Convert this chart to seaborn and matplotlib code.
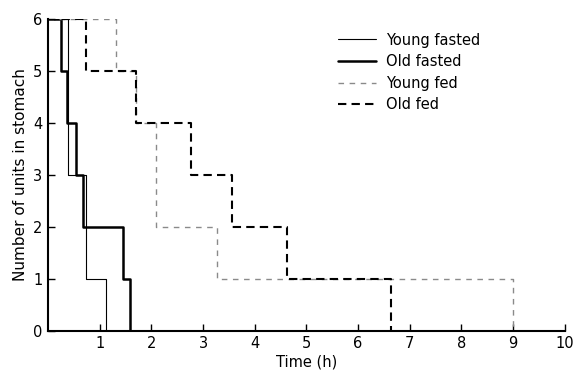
import numpy as np
import pandas as pd
import seaborn as sns
import matplotlib.pyplot as plt

sns.set_style("ticks")
plt.rcParams['font.family'] = ['DejaVu Sans']
plt.rcParams['text.color'] = 'black'
plt.rcParams['axes.labelcolor'] = 'black'
plt.rcParams['xtick.color'] = 'black'
plt.rcParams['ytick.color'] = 'black'

# step data: times at which the count drops, counts after each drop
young_fasted_t = [0, 0.39, 0.73, 1.12]
young_fasted_n = [6, 3, 1, 0]
old_fasted_t = [0, 0.26, 0.36, 0.54, 0.68, 1.45, 1.58]
old_fasted_n = [6, 5, 4, 3, 2, 1, 0]
young_fed_t = [0, 1.32, 1.71, 2.09, 3.28, 9.0]
young_fed_n = [6, 5, 4, 2, 1, 0]
old_fed_t = [0, 0.73, 1.71, 2.76, 3.56, 4.62, 6.64]
old_fed_n = [6, 5, 4, 3, 2, 1, 0]

labels = ["Young fasted", "Old fasted", "Young fed", "Old fed"]
xticks = [1, 2, 3, 4, 5, 6, 7, 8, 9, 10]
yticks = [0, 1, 2, 3, 4, 5, 6]

frames = []
for lab, t, n in zip(labels,
                     [young_fasted_t, old_fasted_t, young_fed_t, old_fed_t],
                     [young_fasted_n, old_fasted_n, young_fed_n, old_fed_n]):
    frames.append(pd.DataFrame({"time": t, "units": n, "group": lab}))
df = pd.concat(frames, ignore_index=True)

styles = {
    "Young fasted": dict(color="black", lw=0.8, ls="-"),
    "Old fasted": dict(color="black", lw=1.8, ls="-"),
    "Young fed": dict(color="#8a8a8a", lw=1.0, ls=(0, (4, 4))),
    "Old fed": dict(color="black", lw=1.5, ls=(0, (4, 2.5))),
}

fig, ax = plt.subplots(figsize=(5.75, 3.71), dpi=100)
fig.subplots_adjust(left=0.0835, right=0.982, bottom=0.108, top=0.949)

for lab in labels:
    d = df[df["group"] == lab]
    s = styles[lab]
    sns.lineplot(data=d, x="time", y="units", ax=ax, estimator=None,
                 drawstyle="steps-post", color=s["color"], linewidth=s["lw"],
                 linestyle=s["ls"], label=lab)

ax.set_xlim(0, 10)
ax.set_ylim(0, 6)
ax.set_xticks(xticks)
ax.set_yticks(yticks)
ax.tick_params(direction="in", length=5, width=1, labelsize=10.5, pad=4)
ax.set_xlabel("Time (h)", fontsize=10.5, labelpad=2)
ax.set_ylabel("Number of units in stomach", fontsize=11, labelpad=4)
sns.despine(ax=ax)
for sp in ["left", "bottom"]:
    ax.spines[sp].set_linewidth(1.5)
    ax.spines[sp].set_color("black")

ax.legend(frameon=False, loc="upper left", bbox_to_anchor=(0.55, 0.975),
          fontsize=10.5, handlelength=2.6, handletextpad=0.7, labelspacing=0.45,
          borderaxespad=0)

fig.savefig("out.png", dpi=100)
